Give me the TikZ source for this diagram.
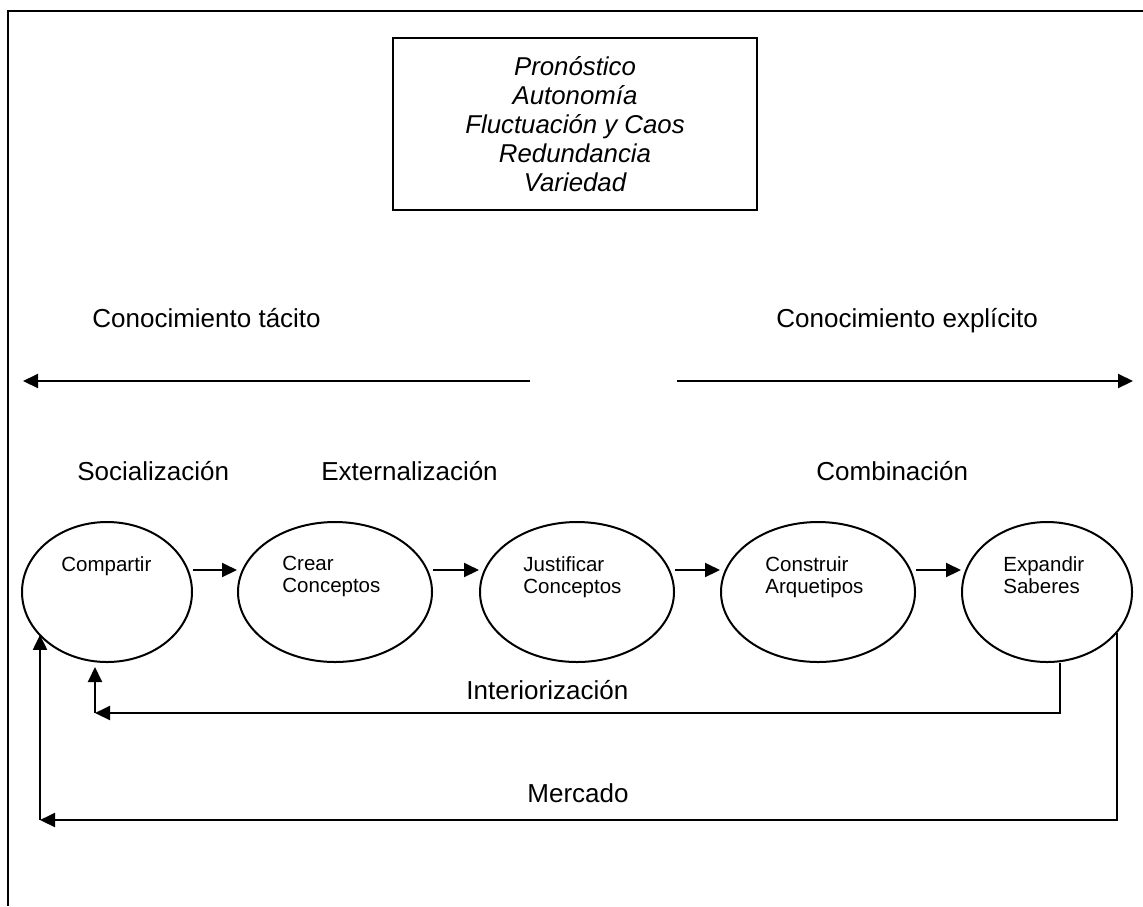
\documentclass[tikz,border=0pt]{standalone}
\usepackage{fontspec}
\setmainfont{Liberation Sans}
\usetikzlibrary{arrows.meta,positioning,shapes.geometric}

\tikzset{
  fase/.style={ellipse,draw,line width=1pt,inner sep=0pt,minimum height=70pt},
  fasetxt/.style={anchor=north west,align=left,inner sep=0pt,font=\fontsize{10.25}{11}\selectfont},
  etiq/.style={anchor=base west,inner sep=0pt,font=\fontsize{13}{15}\selectfont},
  flecha/.style={line width=1pt,-{Triangle[length=7.5pt,width=7pt]}}
}

\begin{document}
\begin{tikzpicture}[x=0.5pt,y=-0.5pt]
\useasboundingbox (0,0) rectangle (1143,906);
\pgfmathsetmacro{\filay}{592}
\draw[line width=1.3pt] (8,906) -- (8,11) -- (1143,11);
\node[draw,line width=1.1pt,minimum width=182pt,minimum height=86pt,align=center,
  font=\fontsize{12.9}{14.5}\selectfont\itshape] (principios) at (575,124)
  {Pronóstico\\Autonomía\\Fluctuación y Caos\\Redundancia\\Variedad};

\node[etiq] (tacito) at (92,327) {Conocimiento tácito};
\node[etiq] (explicito) at (776,327) {Conocimiento explícito};
\coordinate (tacito-ini) at (530,381);
\coordinate (tacito-fin) at (23,381);
\coordinate (explicito-ini) at (677,381);
\coordinate (explicito-fin) at (1133,381);
\draw[flecha] (tacito-ini) -- (tacito-fin);
\draw[flecha] (explicito-ini) -- (explicito-fin);

\node[etiq] (socializacion) at (77,480) {Socialización};
\node[etiq] (externalizacion) at (321,480) {Externalización};
\node[etiq] (combinacion) at (816,480) {Combinación};

\node[fase,minimum width=85pt] (compartir) at (107,\filay) {};
\node[fase,minimum width=97pt] (crear) at (335,\filay) {};
\node[fase,minimum width=97pt] (justificar) at (577,\filay) {};
\node[fase,minimum width=97pt] (construir) at (818,\filay) {};
\node[fase,minimum width=85pt] (expandir) at (1047,\filay) {};

\node[fasetxt] (compartir-t) at (61,556) {Compartir};
\node[fasetxt] (crear-t) at (282,556) {Crear\\Conceptos};
\node[fasetxt] (justificar-t) at (523,556) {Justificar\\Conceptos};
\node[fasetxt] (construir-t) at (765,556) {Construir\\Arquetipos};
\node[fasetxt] (expandir-t) at (1003,556) {Expandir\\Saberes};

\foreach \a/\b in {compartir/crear,crear/justificar,justificar/construir,construir/expandir}
  \draw[flecha] (\a.east |- 0,570) -- (\b.west |- 0,570);

\coordinate (interior-esq) at (95,713);
\draw[flecha] (expandir.south -| 1060,0) |- (interior-esq);
\draw[flecha,shorten >=2pt] (interior-esq) -- (compartir.south -| interior-esq);
\node[etiq] (interiorizacion) at (466,699) {Interiorización};

\coordinate (mercado-esq) at (40,820);
\draw[flecha] (expandir.-30) |- (mercado-esq);
\draw[flecha] (mercado-esq) -- (compartir.212 -| mercado-esq);
\node[etiq] (mercado) at (527,802) {Mercado};
\end{tikzpicture}
\end{document}
